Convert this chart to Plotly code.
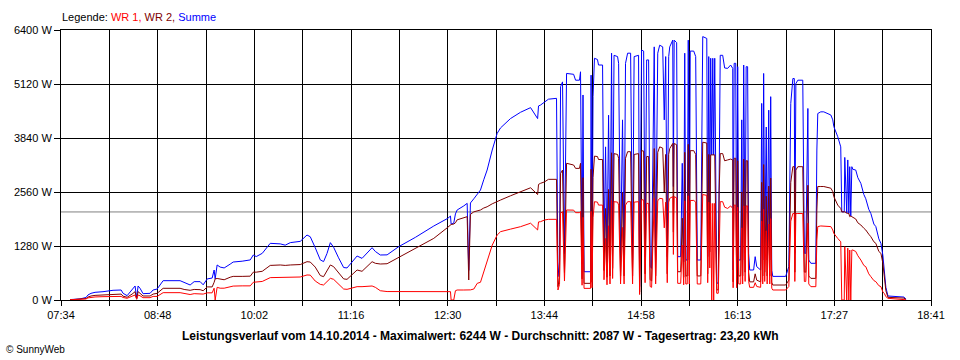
import plotly.graph_objects as go

# Sample times in minutes since midnight (14.10.2014)
minutes = [
    460.9, 468.6, 473.2, 474.7, 477.0, 480.1, 486.2, 493.9, 500.1, 501.6,
    504.7, 508.5, 510.8, 512.0, 513.1, 514.6, 516.9, 522.3, 524.6, 527.7,
    530.0, 532.3, 545.3, 548.4, 553.0, 556.1, 560.7, 563.0, 566.1, 569.9,
    571.4, 572.2, 573.7, 576.0, 579.1, 583.7, 586.0, 592.9, 599.1, 601.4,
    603.7, 608.3, 614.4, 622.1, 625.9, 629.8, 637.4, 642.6, 645.1, 648.9,
    652.8, 655.3, 657.9, 660.5, 663.0, 666.8, 670.7, 673.3, 677.1, 681.0,
    684.8, 688.6, 692.5, 695.0, 698.8, 704.0, 712.9, 725.7, 739.8, 750.5,
    752.6, 753.1, 755.1, 756.4, 757.7, 762.8, 765.4, 766.6, 767.9, 770.5,
    773.1, 775.6, 778.1, 780.7, 784.6, 788.4, 791.0, 798.6, 806.3, 814.0,
    819.4, 820.1, 821.6,
    824.7, 827.7, 833.9, 835.0, 836.2, 837.0, 838.5, 840.0, 841.6, 847.0,
    848.5, 851.5, 852.3, 853.5, 854.2, 855.0, 860.0, 860.4, 861.1, 861.9,
    863.0, 865.3, 866.1, 869.2, 870.3, 871.5, 872.6, 873.8, 874.9, 876.1,
    876.9, 878.0, 880.7, 881.5, 883.0, 884.5, 885.7, 886.8, 888.4, 890.7,
    892.2, 893.4, 896.8, 897.6, 899.1, 900.7, 901.8, 903.0, 904.5, 905.7,
    906.8, 908.8, 909.9, 911.5, 913.0, 915.3, 916.5, 917.6, 918.8, 919.9,
    920.7, 923.0, 923.5, 924.1, 926.0, 926.8, 929.1, 930.3, 931.4, 932.2,
    933.0, 934.1, 934.9, 935.7, 936.4, 939.1, 940.6, 941.8, 944.5, 946.0,
    949.1, 949.8, 950.6, 951.4, 952.1, 952.9, 953.7, 954.4, 955.2, 956.7,
    957.9, 958.6, 959.4, 961.3, 962.8, 965.1, 967.4, 969.0, 969.3, 970.1,
    971.3, 972.0, 972.8, 973.6, 975.1, 975.9, 976.6, 977.4, 978.5, 979.3,
    980.4, 981.2, 982.0, 985.0, 986.2, 987.4, 990.4, 991.2, 992.0, 992.7,
    993.5, 994.7, 995.4, 996.6, 997.4, 998.1, 998.9, 999.7, 1009.6, 1012.0,
    1013.5, 1015.1, 1016.2, 1016.6, 1017.4, 1018.9, 1022.7, 1023.9, 1025.0, 1026.6,
    1027.3, 1028.9, 1032.7, 1033.5, 1034.2, 1036.5, 1038.8, 1044.2, 1045.7, 1046.5,
    1049.5, 1051.8, 1052.6, 1054.5, 1054.9, 1056.4, 1057.2, 1058.0, 1058.7, 1059.5,
    1060.3, 1061.0, 1063.3, 1064.9, 1067.2, 1069.5, 1071.0, 1073.3, 1074.9, 1077.2,
    1078.7, 1081.0, 1082.6, 1084.1, 1085.3, 1086.4, 1088.0, 1094.1, 1100.3, 1101.8,
]

summe = [
    10, 25, 60, 120, 158, 182, 197, 230, 237, 158,
    103, 237, 332, 40, 332, 277, 150, 158, 237, 260,
    356, 458, 458, 420, 356, 435, 435, 360, 500, 520,
    711, 500, 830, 780, 760, 850, 900, 920, 950, 1066,
    1030, 1106, 1343, 1330, 1300, 1360, 1390, 1540, 1500, 1240,
    950, 910, 1100, 1359, 1250, 1000, 770, 760, 900, 1043,
    987, 1100, 1240, 1150, 1067, 1070, 1264, 1485, 1754, 1935,
    1990, 1800, 1820, 2040, 2133, 2230, 2291, 700, 2300, 2400,
    2520, 2607, 2850, 3081, 3555, 3950, 4080, 4300, 4450, 4560,
    4300, 4600, 4620,
    4700, 4760, 4780, 553, 900, 5056, 5170, 1100, 5370, 5350,
    5210, 5210, 5410, 850, 4860, 670, 670, 5330, 700, 4820,
    5730, 5700, 5570, 5570, 1185, 3630, 900, 4380, 950, 5850,
    1264, 5800, 5770, 5610, 948, 4270, 948, 5610, 5850, 5850,
    948, 5770, 5800, 316, 5925, 5900, 1027, 5690, 5690, 800,
    750, 6000, 948, 5850, 6040, 6000, 4270, 5770, 1027, 5770,
    6000, 6160, 2690, 6160, 6100, 1027, 1027, 3240, 900, 5850,
    948, 948, 6160, 948, 5900, 5900, 5770, 948, 948, 6244,
    6200, 1027, 5770, 1896, 5730, 3440, 5730, 3440, 5730, 400,
    400, 4345, 5800, 5800, 5500, 5490, 5570, 5490, 711, 5610,
    5610, 711, 5530, 948, 948, 4270, 948, 5570, 1106, 5530,
    5530, 1106, 711, 711, 1027, 790, 711, 4660, 948, 5370,
    1106, 4100, 948, 4500, 948, 4820, 700, 560, 560, 790,
    4660, 5250, 5250, 1106, 5130, 5210, 5210, 1106, 1106, 4540,
    948, 870, 870, 3555, 4420, 4460, 4460, 4385, 4270, 4110,
    3870, 3630, 2090, 2090, 3380, 2060, 3320, 2050, 3160, 1990,
    3160, 3100, 3080, 2900, 2765, 2500, 2400, 2150, 2050, 1800,
    1740, 1450, 1343, 1060, 632, 300, 95, 80, 70, 20,
]

wr2 = [
    5, 15, 35, 70, 95, 110, 118, 140, 140, 90,
    65, 140, 197, 20, 197, 160, 95, 95, 140, 158,
    220, 277, 277, 250, 230, 250, 245, 220, 310, 310,
    420, 500, 510, 500, 480, 540, 560, 560, 565, 660,
    660, 680, 820, 830, 820, 830, 840, 908, 900, 780,
    580, 553, 700, 830, 790, 650, 500, 490, 600, 711,
    680, 800, 908, 870, 853, 860, 1011, 1224, 1461, 1722,
    1780, 1790, 1800, 1830, 1900, 1950, 1975, 474, 2030, 2090,
    2110, 2133, 2180, 2210, 2280, 2340, 2370, 2470, 2567, 2660,
    2500, 2740, 2765,
    2800, 2860, 2860, 316, 530, 3000, 3080, 650, 3240, 3200,
    3120, 3120, 3240, 500, 2900, 395, 395, 3100, 420, 2900,
    3410, 3400, 3330, 3330, 700, 2170, 540, 2620, 570, 3490,
    750, 3470, 3450, 3360, 570, 2550, 570, 3360, 3515, 3515,
    570, 3450, 3470, 190, 3540, 3530, 620, 3400, 3400, 480,
    450, 3590, 570, 3500, 3630, 3600, 2560, 3450, 620, 3450,
    3590, 3710, 1610, 3710, 3680, 670, 670, 1940, 540, 3500,
    570, 570, 3690, 570, 3540, 3540, 3450, 570, 570, 3740,
    3720, 620, 3450, 1140, 3440, 3440, 3440, 3440, 3440, 240,
    240, 2600, 3470, 3470, 3300, 3320, 3340, 3320, 430, 3360,
    3360, 430, 3300, 570, 570, 2560, 570, 3340, 660, 3300,
    3300, 660, 430, 430, 620, 470, 430, 2790, 570, 3210,
    660, 2460, 570, 2700, 570, 2890, 420, 355, 355, 470,
    2790, 3160, 3160, 660, 3080, 3160, 3160, 660, 660, 2720,
    570, 513, 513, 2130, 2690, 2690, 2690, 2650, 2570, 2450,
    2250, 2170, 2090, 2090, 2090, 2060, 2060, 2050, 1975, 1990,
    1975, 1960, 1920, 1830, 1778, 1700, 1660, 1560, 1500, 1380,
    1343, 1150, 1106, 870, 500, 220, 63, 50, 45, 10,
]

wr1 = [
    5, 10, 25, 50, 63, 72, 79, 85, 85, 60,
    40, 90, 118, 20, 118, 100, 55, 55, 85, 85,
    130, 174, 174, 155, 130, 150, 150, 140, 170, 170,
    280, 0, 300, 280, 280, 310, 330, 335, 335, 420,
    430, 440, 530, 537, 530, 540, 545, 593, 590, 450,
    370, 356, 430, 514, 490, 380, 260, 253, 290, 316,
    316, 325, 332, 300, 220, 200, 198, 198, 198, 198,
    198, 0, 0, 220, 237, 237, 237, 230, 240, 260,
    395, 420, 680, 948, 1300, 1540, 1620, 1680, 1738, 1820,
    1660, 1850, 1856,
    1896, 1912, 1912, 237, 370, 2054, 2093, 450, 2133, 2130,
    2070, 2070, 2100, 350, 1960, 276, 276, 2100, 290, 1950,
    2330, 2320, 2250, 2250, 480, 1460, 360, 1760, 380, 2360,
    510, 2330, 2320, 2250, 380, 1720, 380, 2250, 2330, 2330,
    380, 2320, 2330, 130, 2380, 2370, 410, 2290, 2290, 320,
    300, 2410, 380, 2350, 2410, 2400, 1710, 2320, 410, 2320,
    2410, 2450, 1080, 2450, 2420, 395, 395, 1300, 360, 2350,
    380, 380, 2470, 380, 2360, 2360, 2320, 380, 380, 2500,
    2480, 410, 2320, 760, 2290, 0, 2290, 0, 2290, 160,
    160, 1740, 2330, 2330, 2200, 2170, 2230, 2170, 290, 2250,
    2250, 290, 2200, 380, 380, 1710, 380, 2230, 440, 2230,
    2230, 440, 300, 300, 410, 320, 300, 1870, 380, 2150,
    440, 1640, 380, 1800, 380, 1930, 280, 237, 237, 320,
    1870, 2050, 2050, 440, 2050, 2050, 2050, 440, 440, 1820,
    380, 316, 316, 1420, 1740, 1755, 1755, 1740, 1660, 1580,
    1460, 1380, 0, 0, 1264, 0, 1230, 0, 1185, 0,
    1185, 1185, 1150, 1050, 948, 820, 790, 620, 553, 460,
    435, 340, 316, 190, 150, 80, 40, 25, 20, 5,
]

x_tick_labels = ["07:34", "08:48", "10:02", "11:16", "12:30",
                 "13:44", "14:58", "16:13", "17:27", "18:41"]
y_tick_values = [0, 1280, 2560, 3840, 5120, 6400]
y_tick_labels = ["0 W", "1280 W", "2560 W", "3840 W", "5120 W", "6400 W"]
average_w = 2087
title_text = ("Leistungsverlauf vom 14.10.2014 - Maximalwert: 6244 W - "
              "Durchschnitt: 2087 W - Tagesertrag: 23,20 kWh")

X_START, X_END = 454, 1121
n_grid = 2 * (len(x_tick_labels) - 1)
grid_vals = [X_START + k * (X_END - X_START) / n_grid for k in range(n_grid + 1)]
grid_text = [x_tick_labels[k // 2] if k % 2 == 0 else "" for k in range(n_grid + 1)]

FONT = "Liberation Sans, Arial, sans-serif"

fig = go.Figure()
fig.add_trace(go.Scatter(x=minutes, y=summe, mode="lines", name="Summe",
                         line=dict(color="#0000FF", width=1)))
fig.add_trace(go.Scatter(x=minutes, y=wr2, mode="lines", name="WR 2",
                         line=dict(color="#800000", width=1)))
fig.add_trace(go.Scatter(x=minutes, y=wr1, mode="lines", name="WR 1",
                         line=dict(color="#FF0000", width=1)))

fig.add_shape(type="line", xref="paper", x0=0, x1=1, yref="y",
              y0=average_w, y1=average_w, line=dict(color="#808080", width=1),
              layer="below")

fig.update_layout(
    width=960, height=360,
    margin=dict(l=61, r=29, t=30, b=60),
    paper_bgcolor="white", plot_bgcolor="white",
    showlegend=False,
    font=dict(family=FONT, size=11, color="black"),
    xaxis=dict(range=[X_START, X_END], tickmode="array", tickvals=grid_vals,
               ticktext=grid_text, showgrid=True, gridcolor="black", gridwidth=1,
               showline=True, linecolor="black", linewidth=1, mirror=True,
               ticks="outside", ticklen=5, tickcolor="black", zeroline=False,
               tickfont=dict(family=FONT, size=11, color="black")),
    yaxis=dict(range=[0, 6400], tickmode="array", tickvals=y_tick_values,
               ticktext=y_tick_labels, showgrid=True, gridcolor="black", gridwidth=1,
               showline=True, linecolor="black", linewidth=1, mirror=True,
               ticks="outside", ticklen=6, tickcolor="black", zeroline=False,
               tickfont=dict(family=FONT, size=11, color="black")),
    annotations=[
        dict(xref="paper", yref="paper", x=-0.001, y=1.048, xanchor="left",
             yanchor="middle", showarrow=False,
             text=("Legende: <span style='color:#FF0000'>WR 1,</span> "
                   "<span style='color:#800000'>WR 2,</span> "
                   "<span style='color:#0000FF'>Summe</span>"),
             font=dict(family=FONT, size=11, color="black")),
        dict(xref="paper", yref="paper", x=(480 - 61) / 870, y=(300 - 336) / 270,
             xanchor="center", yanchor="middle", showarrow=False,
             text="<b>" + title_text + "</b>",
             font=dict(family=FONT, size=12, color="black")),
        dict(xref="paper", yref="paper", x=(4 - 61) / 870, y=(300 - 349) / 270,
             xanchor="left", yanchor="middle", showarrow=False,
             text="© SunnyWeb",
             font=dict(family=FONT, size=10, color="black")),
    ],
)

fig.write_html(
    "out.html",
    config={"displayModeBar": False},
    post_script="document.body.style.margin='0';document.body.style.overflow='hidden';",
)
